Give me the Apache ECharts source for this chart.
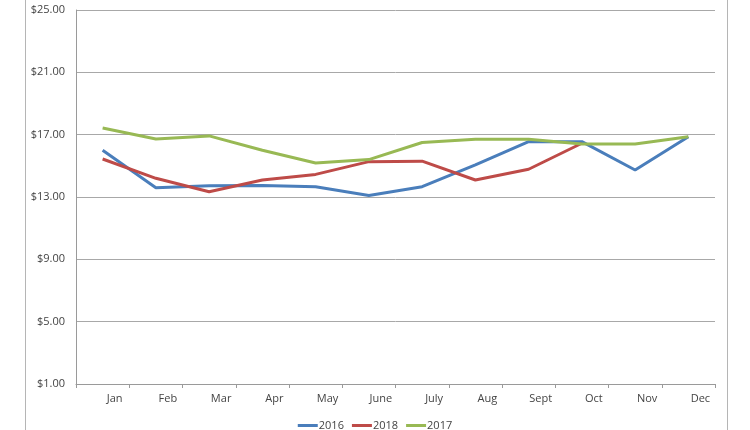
<!DOCTYPE html>
<html><head><meta charset="utf-8">
<script src="https://cdn.jsdelivr.net/npm/echarts@6/dist/echarts.min.js"></script>
<style>
html,body{margin:0;padding:0;background:#fff;}
#frame{position:absolute;left:25px;top:0;width:701px;height:430px;border-left:1px solid #b5b5b5;border-right:1px solid #b5b5b5;}
#chart{position:absolute;left:0;top:0;width:750px;height:430px;}
</style></head>
<body>
<div id="frame"></div>
<div id="chart"></div>
<script>
const months = ['Jan','Feb','Mar','Apr','May','June','July','Aug','Sept','Oct','Nov','Dec'];
const yTicks = [1,5,9,13,17,21,25];
const s2016 = [16.0,13.6,13.72,13.74,13.66,13.1,13.66,15.06,16.55,16.55,14.73,16.87];
const s2018 = [15.44,14.2,13.34,14.09,14.45,15.27,15.3,14.09,14.78,16.45,null,null];
const s2017 = [17.43,16.72,16.92,16.0,15.18,15.4,16.5,16.7,16.7,16.4,16.4,16.87];

const chart = echarts.init(document.getElementById('chart'), null, {renderer:'canvas'});
const font = 'Open Sans';
chart.setOption({
  animation:false,
  backgroundColor:'transparent',
  grid:{left:76,right:35,top:10,bottom:46,containLabel:false},
  legend:{
    top:415,left:'center',
    data:['2016','2018','2017'],
    icon:'rect',itemWidth:20,itemHeight:3,itemGap:8,
    textStyle:{fontFamily:font,fontSize:11,color:'#444',padding:[0,0,0,-4]}
  },
  xAxis:{
    type:'category',data:months,boundaryGap:true,
    axisLine:{lineStyle:{color:'#9a9a9a',width:1}},
    axisTick:{show:true,length:4,inside:false,lineStyle:{color:'#9a9a9a'}},
    axisLabel:{fontFamily:font,fontSize:11,color:'#444',margin:9,padding:[0,0,0,24]}
  },
  yAxis:{
    type:'value',min:1,max:25,
    axisLine:{show:true,lineStyle:{color:'#9a9a9a',width:1}},
    axisTick:{show:false,customValues:yTicks},
    axisLabel:{fontFamily:font,fontSize:11,color:'#444',margin:11,customValues:yTicks,
      formatter:v=>'$'+v.toFixed(2)},
    splitLine:{show:true,lineStyle:{color:'#a8a8a8',width:1}}
  },
  series:[
    {name:'2016',type:'line',data:s2016,symbol:'none',lineStyle:{width:3,color:'#4a7ebb'},itemStyle:{color:'#4a7ebb'}},
    {name:'2018',type:'line',data:s2018,symbol:'none',lineStyle:{width:3,color:'#be4b48'},itemStyle:{color:'#be4b48'}},
    {name:'2017',type:'line',data:s2017,symbol:'none',lineStyle:{width:3,color:'#98b954'},itemStyle:{color:'#98b954'}}
  ]
});
</script>
</body></html>
